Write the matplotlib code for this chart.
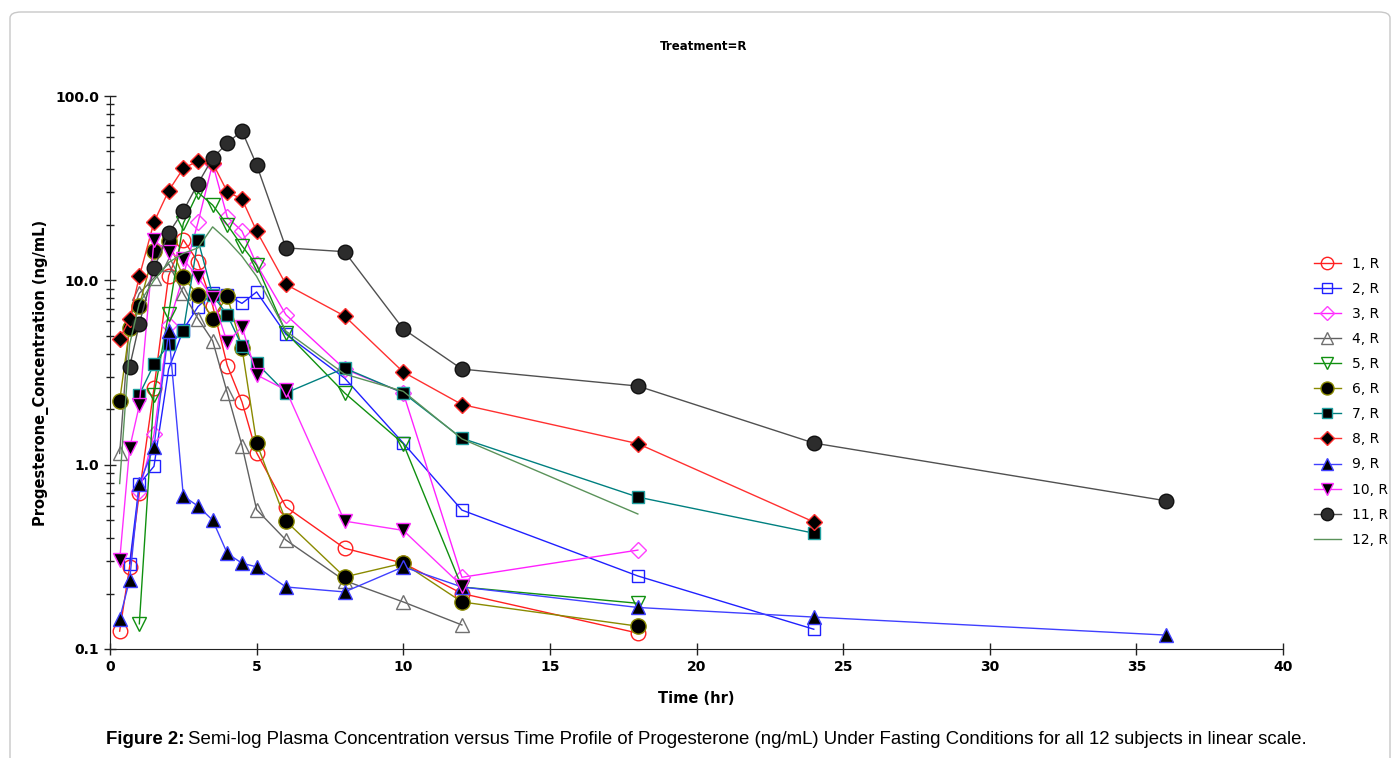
import matplotlib.pyplot as plt
import numpy as np
from matplotlib.patches import FancyBboxPatch
from matplotlib.ticker import LogLocator, NullFormatter, FixedLocator

# sampling times (hr) and concentrations (ng/mL)
t1 = [0.33, 0.67, 1, 1.5, 2, 2.5, 3, 3.5, 4, 4.5, 5, 6, 8, 10, 12, 18]
c1 = [0.125, 0.28, 0.70, 2.6, 10.6, 16.6, 12.6, 7.3, 3.45, 2.19, 1.16, 0.59, 0.352, 0.292, 0.20, 0.122]

t2 = [0.67, 1, 1.5, 2, 2.5, 3, 3.5, 4, 4.5, 5, 6, 8, 10, 12, 18, 24]
c2 = [0.29, 0.785, 0.98, 3.3, 5.4, 7.2, 8.5, 8.3, 7.5, 8.65, 5.1, 2.95, 1.31, 0.567, 0.249, 0.128]

t3 = [1, 1.5, 2, 2.5, 3, 3.5, 4, 4.5, 5, 6, 8, 10, 12, 18]
c3 = [0.72, 1.46, 5.7, 10.6, 20.6, 43.0, 22.0, 18.5, 12.2, 6.5, 3.3, 2.45, 0.245, 0.344]

t4 = [0.33, 0.67, 1, 1.5, 2, 2.5, 3, 3.5, 4, 4.5, 5, 6, 8, 10, 12]
c4 = [1.15, 6.2, 8.5, 10.3, 12.3, 8.5, 6.2, 4.7, 2.45, 1.27, 0.57, 0.39, 0.235, 0.18, 0.135]

t5 = [1, 1.5, 2, 2.5, 3, 3.5, 4, 4.5, 5, 6, 8, 10, 12, 18]
c5 = [0.137, 2.4, 6.6, 20.4, 30.0, 25.6, 20.0, 15.4, 12.1, 5.2, 2.45, 1.3, 0.217, 0.177]

t6 = [0.33, 0.67, 1, 1.5, 2, 2.5, 3, 3.5, 4, 4.5, 5, 6, 8, 10, 12, 18]
c6 = [2.22, 5.5, 7.3, 14.4, 16.3, 10.4, 8.3, 6.2, 8.2, 4.3, 1.31, 0.494, 0.246, 0.292, 0.18, 0.133]

t7 = [1, 1.5, 2, 2.5, 3, 3.5, 4, 4.5, 5, 6, 8, 10, 12, 18, 24]
c7 = [2.4, 3.5, 4.5, 5.3, 16.6, 8.3, 6.5, 4.4, 3.55, 2.45, 3.34, 2.45, 1.39, 0.667, 0.425]

t8 = [0.33, 0.67, 1, 1.5, 2, 2.5, 3, 3.5, 4, 4.5, 5, 6, 8, 10, 12, 18, 24]
c8 = [4.8, 6.2, 10.5, 20.7, 30.6, 40.5, 44.4, 43.3, 30.2, 27.6, 18.5, 9.5, 6.4, 3.18, 2.12, 1.30, 0.489]

t9 = [0.33, 0.67, 1, 1.5, 2, 2.5, 3, 3.5, 4, 4.5, 5, 6, 8, 10, 12, 18, 24, 36]
c9 = [0.146, 0.237, 0.785, 1.25, 5.3, 0.676, 0.596, 0.50, 0.33, 0.292, 0.279, 0.217, 0.204, 0.279, 0.217, 0.168, 0.149, 0.119]

t10 = [0.33, 0.67, 1, 1.5, 2, 2.5, 3, 3.5, 4, 4.5, 5, 6, 8, 10, 12]
c10 = [0.303, 1.23, 2.1, 16.5, 14.2, 13.0, 10.4, 8.0, 4.6, 5.6, 3.07, 2.54, 0.494, 0.44, 0.22]

t11 = [0.67, 1, 1.5, 2, 2.5, 3, 3.5, 4, 4.5, 5, 6, 8, 10, 12, 18, 24, 36]
c11 = [3.4, 5.8, 11.6, 18.0, 23.8, 33.5, 46.0, 55.6, 64.6, 42.3, 15.0, 14.3, 5.45, 3.3, 2.67, 1.31, 0.637]

t12 = [0.33, 0.67, 1, 1.5, 2, 2.5, 3, 3.5, 4, 4.5, 5, 6, 8, 10, 12, 18]
c12 = [0.79, 4.5, 7.5, 10.0, 12.5, 14.0, 15.0, 19.5, 16.5, 13.5, 10.5, 5.3, 3.1, 2.5, 1.38, 0.54]

labels = ["%d, R" % i for i in range(1, 13)]
yticks = [0.1, 1, 10, 100]
ytick_labels = ["0.1", "1.0", "10.0", "100.0"]
xticks = [0, 5, 10, 15, 20, 25, 30, 35, 40]

series = [(t1, c1), (t2, c2), (t3, c3), (t4, c4), (t5, c5), (t6, c6),
          (t7, c7), (t8, c8), (t9, c9), (t10, c10), (t11, c11), (t12, c12)]

# line colour, marker, face, edge, size
styles = [
    ("#ff2020", "o", "none", "#ff2020", 10.5),
    ("#2020ff", "s", "none", "#2020ff", 9),
    ("#ff20ff", "D", "none", "#ff40ff", 8.5),
    ("#606060", "^", "none", "#707070", 9.5),
    ("#109010", "v", "none", "#109010", 9.5),
    ("#8a8a00", "o", "black", "#8a8a00", 11),
    ("#008080", "s", "black", "#20a0a0", 9),
    ("#ff3030", "D", "black", "#ff3030", 8.5),
    ("#4040ff", "^", "black", "#4040ff", 9.5),
    ("#ff30ff", "v", "black", "#ff30ff", 9.5),
    ("#505050", "o", "#2c2c2c", "#111111", 10.5),
    ("#5a925a", "None", "none", "none", 0),
]

fig = plt.figure(figsize=(13.98, 7.58), dpi=100)
ax = fig.add_axes([110/1398, 1-649/758, (1283-110)/1398, (649-96)/758])

for (t, c), lab, (lc, mk, fc, ec, ms) in zip(series, labels, styles):
    ax.plot(t, c, color=lc, lw=1.0, marker=mk, mfc=fc, mec=ec, ms=ms,
            mew=1.0, label=lab)

ax.set_yscale("log")
ax.set_ylim(0.1, 100)
ax.set_xlim(0, 40)
ax.yaxis.set_major_locator(FixedLocator(yticks))
ax.set_yticklabels(ytick_labels)
ax.yaxis.set_minor_locator(LogLocator(base=10, subs=np.arange(2, 10)))
ax.yaxis.set_minor_formatter(NullFormatter())
ax.set_xticks(xticks)
ax.set_xticklabels([str(v) for v in xticks])

for s in ["top", "right"]:
    ax.spines[s].set_visible(False)
for s in ["left", "bottom"]:
    ax.spines[s].set_color("#222222")
ax.tick_params(which="major", direction="inout", length=9, width=1, colors="#222222", labelsize=10)
ax.tick_params(which="minor", direction="inout", length=6, width=1, colors="#222222")
for lbl in ax.get_xticklabels() + ax.get_yticklabels():
    lbl.set_fontweight("bold")
    lbl.set_color("black")

ax.set_xlabel("Time (hr)", fontsize=10.5, fontweight="bold", labelpad=12)
ax.set_ylabel("Progesterone_Concentration (ng/mL)", fontsize=10.5, fontweight="bold", labelpad=4)
fig.text(704/1398, 1-47/758, "Treatment=R", ha="center", va="center",
         fontsize=8.5, fontweight="bold")

leg = fig.legend(loc="upper left", bbox_to_anchor=(1301/1398, 1-244/758),
                 frameon=False, fontsize=10, handlelength=2.0, labelspacing=0.8,
                 handletextpad=0.8, markerscale=0.85)

# caption with bold lead
cap1 = fig.text(106/1398, 1-740/758, "Figure 2:", fontsize=13.45, fontweight="bold",
                family="Liberation Sans", va="center", ha="left")
fig.canvas.draw()
r = fig.canvas.get_renderer()
bb = cap1.get_window_extent(renderer=r)
fig.text((bb.x1 + 4)/1398, 1-740/758,
         "Semi-log Plasma Concentration versus Time Profile of Progesterone (ng/mL) Under Fasting Conditions for all 12 subjects in linear scale.",
         fontsize=13.45, family="Liberation Sans", va="center", ha="left")

border = FancyBboxPatch((10/1398, -0.02), (1380/1398), 1-12/758 + 0.02,
                        boxstyle="round,pad=0,rounding_size=0.008",
                        transform=fig.transFigure, fill=False, ec="#c8c8c8", lw=1.0)
fig.patches.append(border)

fig.savefig("out.png", dpi=100)
